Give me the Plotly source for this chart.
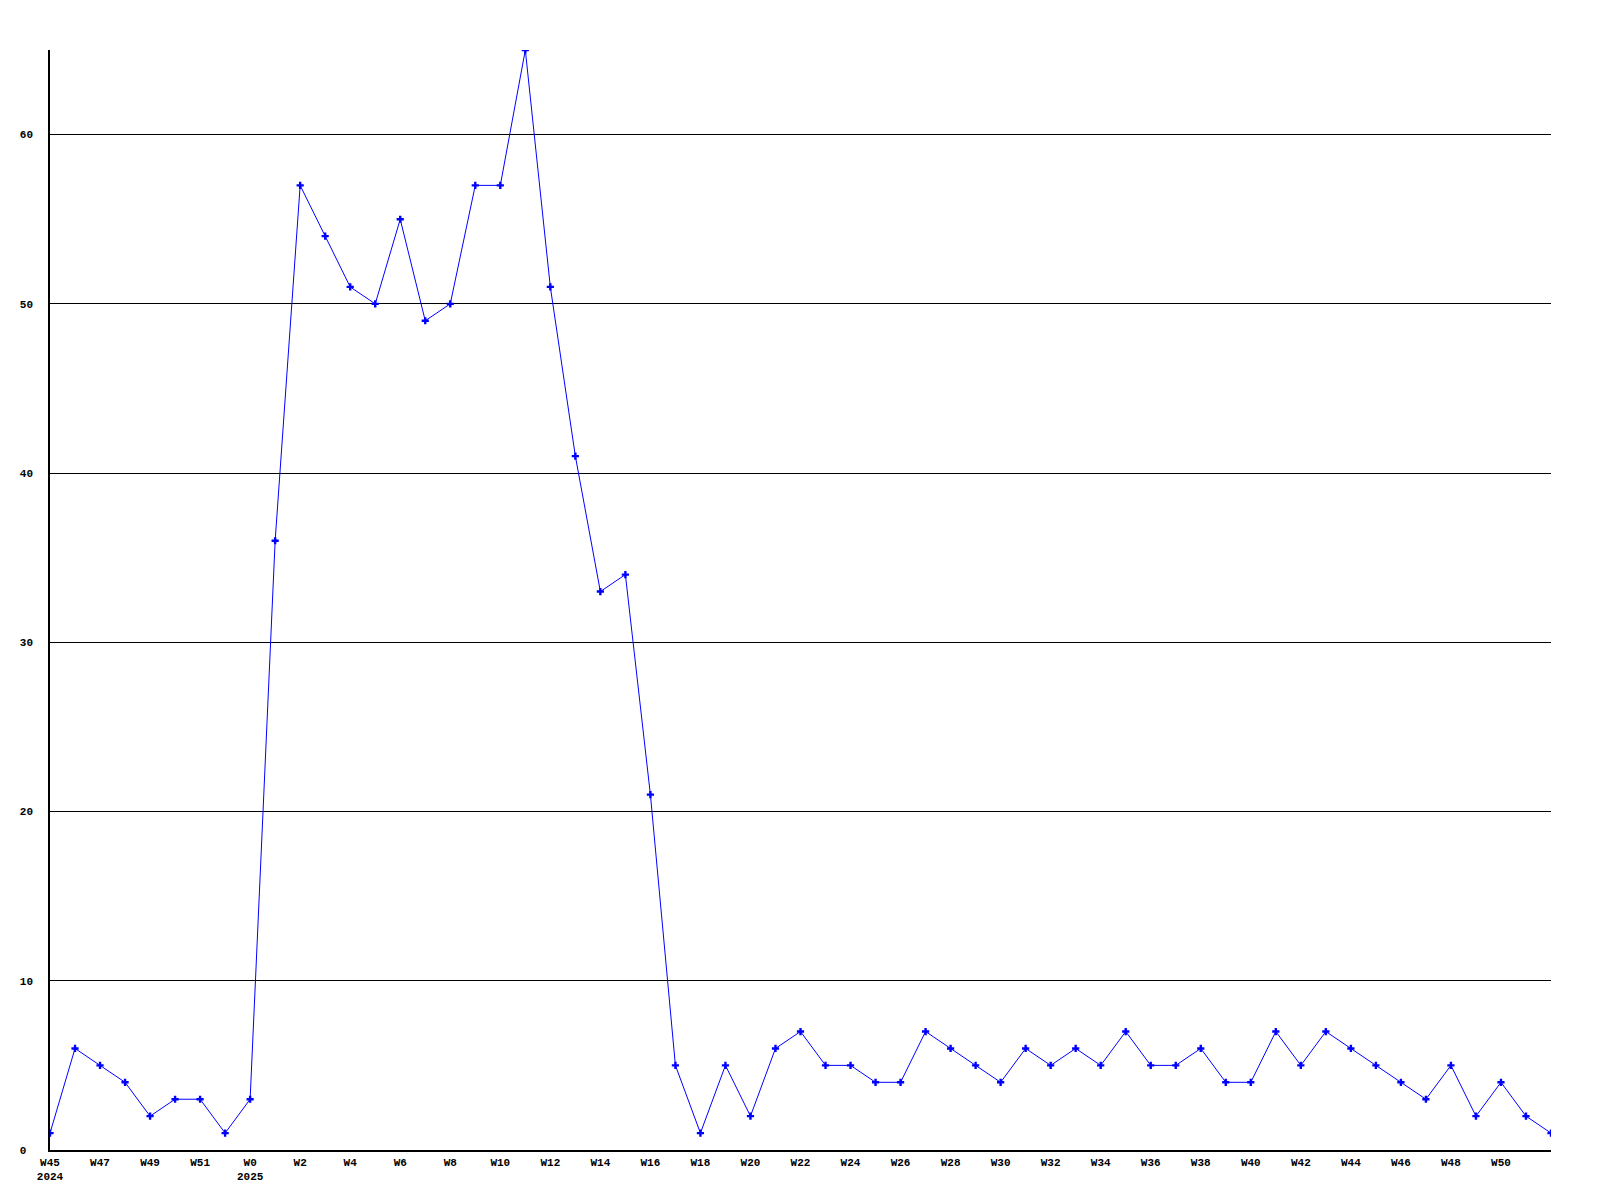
import plotly.graph_objects as go

# weekly counts, W45 2024 .. W52 2025
years = [2024] * 8 + [2025] * 53
weeks = list(range(45, 53)) + list(range(0, 53))
counts = [
    1, 6, 5, 4, 2, 3, 3, 1,
    3, 36, 57, 54, 51, 50, 55, 49, 50, 57, 57, 65,
    51, 41, 33, 34, 21, 5, 1, 5, 2, 6, 7, 5, 5, 4, 4, 7,
    6, 5, 4, 6, 5, 6, 5, 7, 5, 5, 6, 4, 4, 7, 5, 7,
    6, 5, 4, 3, 5, 2, 4, 2, 1,
]
y_ticks = [0, 10, 20, 30, 40, 50, 60]

x = list(range(len(counts)))
tickvals, ticktext = [], []
for i, (yr, wk) in enumerate(zip(years, weeks)):
    # every second week, last one left unlabeled
    if i % 2 or i == len(counts) - 1:
        continue
    lbl = f"W{wk}"
    if i == 0 or wk == 0:
        lbl += f"<br>{yr}"
    tickvals.append(i)
    ticktext.append(lbl)

mono = "Liberation Mono, DejaVu Sans Mono, monospace"
tfont = dict(family=mono, size=11, color="black", weight="bold")

fig = go.Figure(go.Scatter(
    x=x, y=counts, mode="lines+markers",
    line=dict(color="#0000ff", width=1),
    marker=dict(symbol="cross", size=6, color="#0000ff", line=dict(width=0)),
    hoverinfo="y",
))
# page body has an 8px margin, so the figure is sized to fit inside it
fig.update_layout(
    width=1584, height=1184,
    margin=dict(l=42, r=41, t=42, b=42),
    plot_bgcolor="white", paper_bgcolor="white",
    showlegend=False,
    font=dict(family=mono, size=11, color="black"),
)
fig.update_xaxes(
    range=[0, len(counts) - 1], tickvals=tickvals, ticktext=ticktext,
    showgrid=False, zeroline=False, showline=True, linecolor="black", linewidth=1.5,
    ticks="", tickfont=tfont, automargin=False, ticklabelstandoff=1,
)
fig.update_yaxes(
    range=[0, 65], tickvals=y_ticks,
    ticktext=[f"{v}" + "&nbsp;" * (2 - len(str(v))) for v in y_ticks],
    showgrid=True, gridcolor="black", gridwidth=1, zeroline=False,
    showline=True, linecolor="black", linewidth=1.5, ticks="", ticklabelstandoff=13,
    tickfont=tfont, automargin=False,
)
fig.write_html("out.html")
